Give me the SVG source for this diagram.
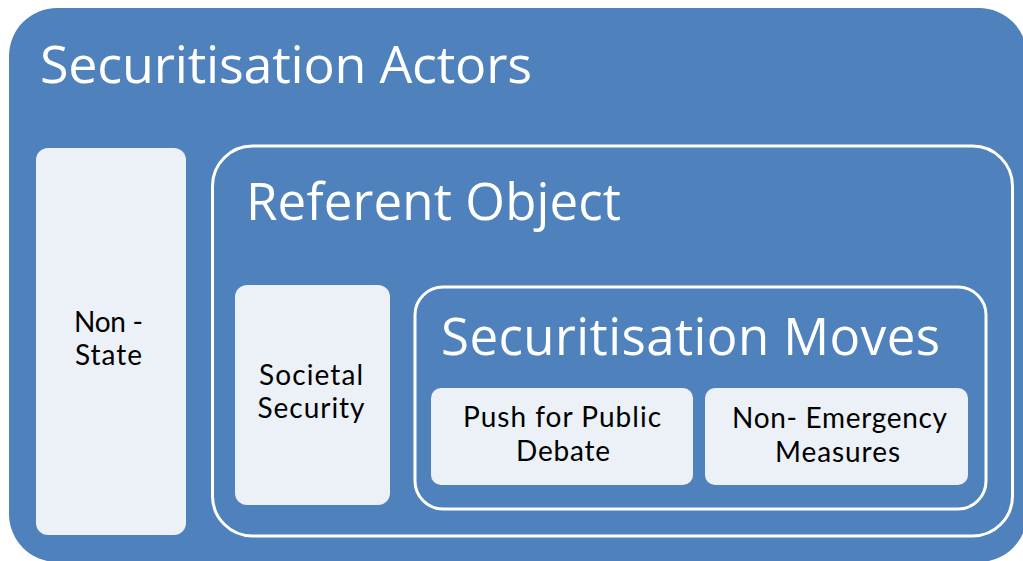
<svg xmlns="http://www.w3.org/2000/svg" width="1023" height="561" viewBox="0 0 1023 561">
<style>
.outer{fill:#4F81BD}
.frame{fill:none;stroke:#FFFFFF;stroke-width:3}
.box{fill:#ECF0F7}
.title{font-family:"Open Sans","Noto Sans",sans-serif;fill:#FFFFFF}
.lbl{font-family:Lato,"Open Sans",sans-serif;fill:#000000;font-size:28px;text-anchor:middle}
</style>
<rect width="1023" height="561" fill="#FFFFFF"/>
<g id="securitisation-actors">
<rect class="outer" x="9" y="8" width="1018" height="554" rx="48"/>
<text class="title" x="40" y="83" font-size="52" textLength="492" lengthAdjust="spacing">Securitisation Actors</text>
</g>
<g id="non-state">
<rect class="box" x="36" y="148" width="150" height="387" rx="12"/>
<text class="lbl" x="108.5" y="332" textLength="69" lengthAdjust="spacing">Non -</text>
<text class="lbl" x="108.5" y="365" textLength="67" lengthAdjust="spacing">State</text>
</g>
<g id="referent-object">
<rect class="frame" x="212.5" y="146" width="800" height="390" rx="40"/>
<text class="title" x="246" y="220" font-size="51" textLength="375" lengthAdjust="spacing">Referent Object</text>
</g>
<g id="societal-security">
<rect class="box" x="235" y="285" width="155" height="220" rx="12"/>
<text class="lbl" x="311" y="385" textLength="104" lengthAdjust="spacing">Societal</text>
<text class="lbl" x="311" y="418" textLength="107" lengthAdjust="spacing">Security</text>
</g>
<g id="securitisation-moves">
<rect class="frame" x="415" y="287" width="571" height="222" rx="28"/>
<text class="title" x="441" y="355" font-size="51" textLength="499" lengthAdjust="spacing">Securitisation Moves</text>
</g>
<g id="push-for-public-debate">
<rect class="box" x="431" y="388" width="262" height="97" rx="10"/>
<text class="lbl" x="562" y="427" textLength="198" lengthAdjust="spacing">Push for Public</text>
<text class="lbl" x="563" y="461" textLength="94" lengthAdjust="spacing">Debate</text>
</g>
<g id="non-emergency-measures">
<rect class="box" x="705" y="388" width="263" height="97" rx="10"/>
<text class="lbl" x="839.5" y="428" textLength="215" lengthAdjust="spacing">Non- Emergency</text>
<text class="lbl" x="837.5" y="462" textLength="125" lengthAdjust="spacing">Measures</text>
</g>
<g id="connectors"></g>
</svg>
